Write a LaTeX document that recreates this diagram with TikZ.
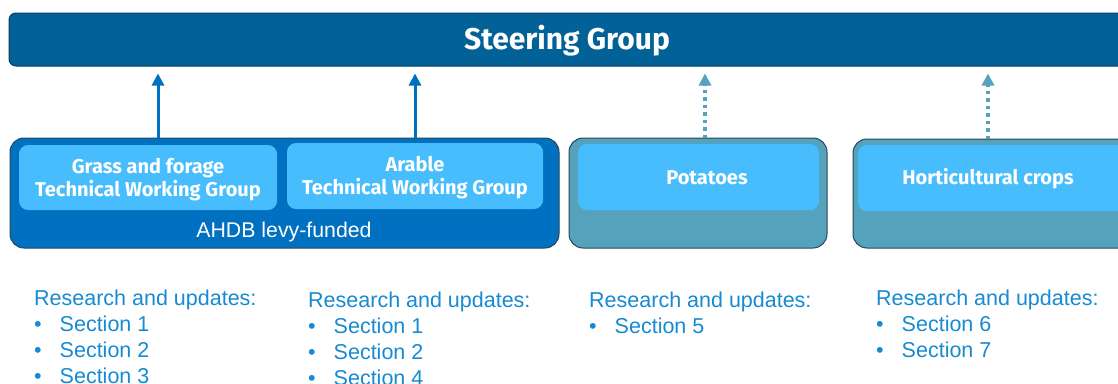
\documentclass[tikz,border=0pt]{standalone}
\usepackage{fontspec}
\setmainfont{Liberation Sans}
\newfontfamily\boxfont{Fira Sans}
\usetikzlibrary{arrows.meta}
\definecolor{steer}{RGB}{2,97,150}
\definecolor{steerdk}{RGB}{10,60,95}
\definecolor{ahdb}{RGB}{0,112,192}
\definecolor{inner}{RGB}{71,189,253}
\definecolor{grey}{RGB}{84,162,188}
\definecolor{edge}{RGB}{40,70,90}
\definecolor{txt}{RGB}{22,138,210}
\tikzset{
  outerbox/.style={draw=edge, line width=1pt, rounded corners=14pt, inner sep=0pt},
  innerbox/.style={fill=inner, rounded corners=9pt, inner sep=0pt, text=white,
    font=\boxfont\bfseries\fontsize{20}{23}\selectfont, align=center},
  solidarrow/.style={draw=ahdb, line width=3pt, -{Triangle[width=12pt,length=12pt]}},
  dotarrow/.style={draw=grey, line width=3.5pt, dash pattern=on 3.5pt off 4pt, -{Triangle[width=12pt,length=12pt]}},
  listtxt/.style={anchor=base west, inner sep=0pt, text=txt, font=\fontsize{21.5}{24}\selectfont},
}
\newcommand{\bul}{\textbullet\hspace{18pt}}
\begin{document}
\begin{tikzpicture}[x=1pt,y=-1pt]
\useasboundingbox (0,0) rectangle (1118,383);
\clip (0,0) rectangle (1118,383);
% steering group
\node[draw=steerdk, line width=1pt, fill=steer, rounded corners=7pt, minimum width=1116pt, minimum height=53pt, inner sep=0pt] (steer) at (567,39.5) {};
\node[text=white, font=\boxfont\bfseries\fontsize{30}{34}\selectfont, inner sep=0pt] (steertxt) at (567,41) {Steering Group};
% AHDB
\node[outerbox, fill=ahdb, minimum width=549pt, minimum height=110pt] (ahdb) at (284.5,193) {};
\node[innerbox, minimum width=258pt, minimum height=65pt] (grass) at (148,177.5) {};
\node[text=white, font=\boxfont\bfseries\fontsize{20}{23}\selectfont, align=center, inner sep=0pt] (grasstxt) at (148,179.5) {Grass and forage\\Technical Working Group};
\node[innerbox, minimum width=256pt, minimum height=66pt] (arable) at (415,176) {};
\node[text=white, font=\boxfont\bfseries\fontsize{20}{23}\selectfont, align=center, inner sep=0pt] (arabletxt) at (415,177.5) {Arable\\Technical Working Group};
\node[text=white, font=\fontsize{21.3}{24}\selectfont, inner sep=0pt] (levy) at (284,232) {AHDB levy-funded};
% potatoes
\node[outerbox, fill=grey, minimum width=258pt, minimum height=110pt] (pot) at (698,193) {};
\node[innerbox, minimum width=241pt, minimum height=66pt] (potin) at (698.5,177) {};
\node[text=white, font=\boxfont\bfseries\fontsize{20}{23}\selectfont, inner sep=0pt] (pottxt) at (707,178) {Potatoes};
% horticultural
\node[outerbox, fill=grey, minimum width=280pt, minimum height=109pt] (hort) at (993,193.5) {};
\node[innerbox, minimum width=272pt, minimum height=66pt] (hortin) at (994,178) {};
\node[text=white, font=\boxfont\bfseries\fontsize{20}{23}\selectfont, inner sep=0pt] (horttxt) at (988,179) {Horticultural crops};
% arrows
\coordinate (a1) at (158,138);
\coordinate (a2) at (415,138);
\coordinate (a3) at (705,138);
\coordinate (a4) at (988,139);
\draw[solidarrow] (a1) -- ([yshift=-7pt]a1 |- steer.south);
\draw[solidarrow] (a2) -- ([yshift=-7pt]a2 |- steer.south);
\draw[dotarrow] (a3) -- ([yshift=-7pt]a3 |- steer.south);
\draw[dotarrow] (a4) -- ([yshift=-7pt]a4 |- steer.south);
% lists
\node[listtxt] (r1) at (34,305) {Research and updates:};
\node[listtxt] (r1a) at (34,331) {\bul Section 1};
\node[listtxt] (r1b) at (34,357) {\bul Section 2};
\node[listtxt] (r1c) at (34,383) {\bul Section 3};
\node[listtxt] (r2) at (308,307) {Research and updates:};
\node[listtxt] (r2a) at (308,333) {\bul Section 1};
\node[listtxt] (r2b) at (308,359) {\bul Section 2};
\node[listtxt] (r2c) at (308,385) {\bul Section 4};
\node[listtxt] (r3) at (589,307) {Research and updates:};
\node[listtxt] (r3a) at (589,333) {\bul Section 5};
\node[listtxt] (r4) at (876,305) {Research and updates:};
\node[listtxt] (r4a) at (876,331) {\bul Section 6};
\node[listtxt] (r4b) at (876,357) {\bul Section 7};
\end{tikzpicture}
\end{document}
